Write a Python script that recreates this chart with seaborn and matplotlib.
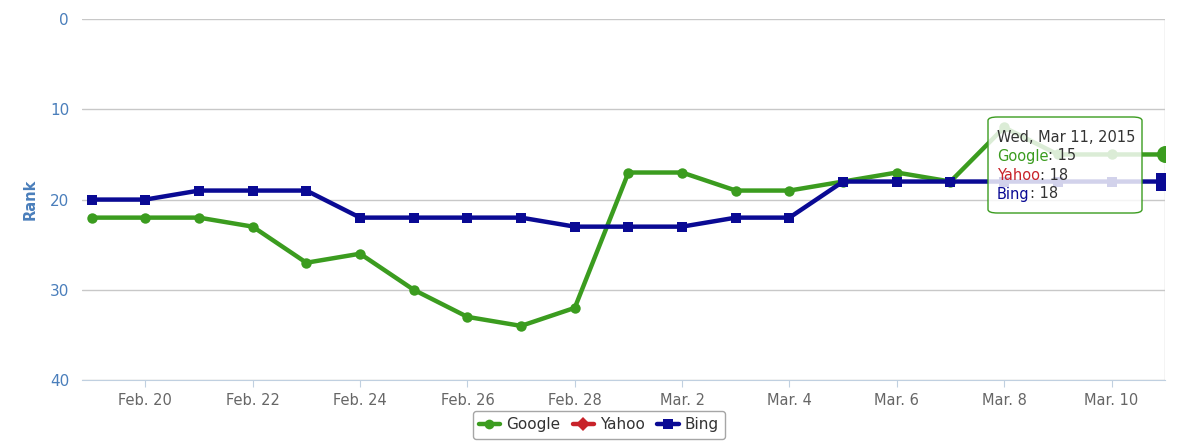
import pandas as pd
import seaborn as sns
import matplotlib.pyplot as plt
from matplotlib.lines import Line2D
from matplotlib.patches import FancyBboxPatch

dates = pd.date_range("2015-02-19", "2015-03-11", freq="D")
google = [22, 22, 22, 23, 27, 26, 30, 33, 34, 32, 17, 17, 19, 19, 18, 17, 18, 12, 15, 15, 15]
bing = [20, 20, 19, 19, 19, 22, 22, 22, 22, 23, 23, 23, 22, 22, 18, 18, 18, 18, 18, 18, 18]
yahoo = [20, 20, 19, 19, 19, 22, 22, 22, 22, 23, 23, 23, 22, 22, 18, 18, 18, 18, 18, 18, 18]
tick_dates = pd.date_range("2015-02-20", "2015-03-10", freq="2D")
tick_labels = ["Feb. 20", "Feb. 22", "Feb. 24", "Feb. 26", "Feb. 28",
               "Mar. 2", "Mar. 4", "Mar. 6", "Mar. 8", "Mar. 10"]

df = pd.DataFrame({"date": dates, "Google": google, "Yahoo": yahoo, "Bing": bing})

sns.set_style("white")
plt.rcParams['font.family'] = ['DejaVu Sans']

colors = {"Google": "#3b9c1f", "Yahoo": "#c8232a", "Bing": "#0a0a94"}
markers = {"Google": "o", "Yahoo": "D", "Bing": "s"}
axis_blue = "#4a7ebb"

fig = plt.figure(figsize=(12, 4.45), dpi=100)
ax = fig.add_axes([0.068, 0.146, 0.903, 0.811])

# yahoo sits exactly under bing, so keep it thinner
sns.lineplot(data=df, x="date", y="Yahoo", ax=ax, color=colors["Yahoo"], lw=1.5,
             marker="D", markersize=3, markeredgewidth=0, zorder=2)
for name in ["Google", "Bing"]:
    sns.lineplot(data=df, x="date", y=name, ax=ax, color=colors[name], lw=3.2,
                 marker=markers[name], markersize=7.5, markeredgewidth=0, zorder=3)
# hovered points on the last day
last = df.iloc[[-1]]
for name in ["Google", "Bing"]:
    sns.scatterplot(data=last, x="date", y=name, ax=ax, color=colors[name],
                    marker=markers[name], s=150, linewidth=0, zorder=4)

ax.set_ylim(40, 0)
ax.set_yticks([0, 10, 20, 30, 40])
ax.set_xlim(dates[0] - pd.Timedelta(hours=4.5), dates[-1])
ax.set_xticks(tick_dates)
ax.set_xticklabels(tick_labels)
ax.grid(axis="y", color="#c8c8c8", lw=1)
for s in ["top", "right", "left"]:
    ax.spines[s].set_visible(False)
ax.spines["bottom"].set_color("#c0d0e0")
ax.axvline(dates[-1], color="#c8c8c8", lw=1, zorder=1)
ax.tick_params(axis="x", colors="#c0d0e0", labelcolor="#666666", labelsize=10.5,
               length=5, direction="out", bottom=True, pad=4)
ax.tick_params(axis="y", labelcolor=axis_blue, labelsize=11, length=0, pad=9)
ax.set_xlabel("")
ax.set_ylabel("Rank", color=axis_blue, fontweight="bold", fontsize=10.5, labelpad=9)

# tooltip, placed in figure pixels
def fpos(px, py):
    return (px / 1200, 1 - py / 445)

box = FancyBboxPatch(fpos(988, 213), 154 / 1200, 96 / 445, transform=fig.transFigure,
                     boxstyle="round,pad=0,rounding_size=0.008", fc=(1, 1, 1, 0.82),
                     ec="#3b9c1f", lw=1, zorder=6, clip_on=False)
ax.add_patch(box)
ax.annotate("Wed, Mar 11, 2015", xy=fpos(997, 137), xycoords="figure fraction",
            color="#333333", fontsize=10.5, va="center", zorder=7,
            annotation_clip=False)
rows = [("Google", colors["Google"], "15"), ("Yahoo", colors["Yahoo"], "18"),
        ("Bing", colors["Bing"], "18")]
for i, (name, c, v) in enumerate(rows):
    ann = ax.annotate(name, xy=fpos(997, 156 + i * 19), xycoords="figure fraction",
                      color=c, fontsize=10.5, va="center", zorder=7,
                      annotation_clip=False)
    ax.annotate(": " + v, xy=(1, 0.5), xycoords=ann, color="#333333", fontsize=10.5,
                va="center", zorder=7, annotation_clip=False)

handles = [Line2D([0], [0], color=colors[n], lw=3.2, marker=markers[n], markersize=7,
                  markeredgewidth=0) for n in ["Google", "Yahoo", "Bing"]]
leg = fig.legend(handles, ["Google", "Yahoo", "Bing"], loc="center", ncol=3,
                 bbox_to_anchor=(0.499, 0.045), frameon=True, fontsize=11,
                 handlelength=1.4, columnspacing=0.8, handletextpad=0.4,
                 fancybox=True, borderpad=0.4)
leg.get_frame().set_edgecolor("#909090")
leg.get_frame().set_linewidth(1)
for t in leg.get_texts():
    t.set_color("#333333")

fig.savefig("out.png", dpi=100)
